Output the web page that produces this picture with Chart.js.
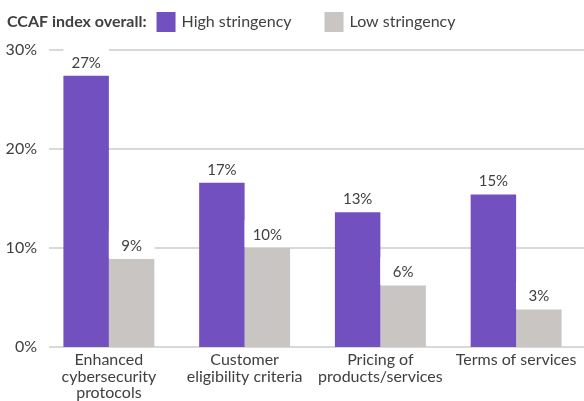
<!DOCTYPE html>
<html>
<head>
<meta charset="utf-8">
<script src="https://cdn.jsdelivr.net/npm/chart.js@4/dist/chart.umd.min.js"></script>
<style>
  html, body { margin: 0; padding: 0; background: #fff; }
  #wrap { width: 584px; height: 401px; }
</style>
</head>
<body>
<div id="wrap"><canvas id="myChart"></canvas></div>
<script>
// chart data
const categories = [
  ["Enhanced", "cybersecurity", "protocols"],
  ["Customer", "eligibility criteria"],
  ["Pricing of", "products/services"],
  ["Terms of services"]
];
const seriesNames = ["High stringency", "Low stringency"];
const highValues = [27.4, 16.6, 13.6, 15.4];
const lowValues = [8.9, 10.0, 6.2, 3.8];
// labels printed above the bars (as shown in the original)
const highLabels = ["27%", "17%", "13%", "15%"];
const lowLabels = ["9%", "10%", "6%", "3%"];
const yTicks = [0, 10, 20, 30];
const legendTitle = "CCAF index overall:";

const FONT = "Lato, 'Noto Sans', sans-serif";
const TEXT = "#404040";

// legend drawn as one line at the top
const topLegend = {
  id: "topLegend",
  afterDraw(chart) {
    const ctx = chart.ctx;
    ctx.save();
    ctx.textBaseline = "middle";
    ctx.font = "bold 16px " + FONT;
    ctx.fillStyle = TEXT;
    let x = 7;
    const y = 22;
    ctx.fillText(legendTitle, x, y);
    x += ctx.measureText(legendTitle).width + 10;
    ctx.font = "16px " + FONT;
    chart.data.datasets.forEach(ds => {
      ctx.fillStyle = ds.backgroundColor;
      ctx.fillRect(x, y - 10, 19, 20);
      x += 25;
      ctx.fillStyle = TEXT;
      ctx.fillText(ds.label, x, y);
      x += ctx.measureText(ds.label).width + 33;
    });
    ctx.restore();
  }
};

// horizontal grid lines, starting a little right of the axis labels
const gridLines = {
  id: "gridLines",
  beforeDatasetsDraw(chart) {
    const ctx = chart.ctx;
    const y = chart.scales.y;
    ctx.save();
    ctx.strokeStyle = "#d9d9d9";
    ctx.lineWidth = 2;
    yTicks.forEach(v => {
      const py = Math.round(y.getPixelForValue(v));
      ctx.beginPath();
      ctx.moveTo(49, py);
      ctx.lineTo(chart.chartArea.right, py);
      ctx.stroke();
    });
    ctx.restore();
  }
};

// value labels above bars, on a white box like the original
const barLabels = {
  id: "barLabels",
  afterDatasetsDraw(chart) {
    const ctx = chart.ctx;
    ctx.save();
    ctx.font = "15px " + FONT;
    ctx.textAlign = "center";
    ctx.textBaseline = "middle";
    chart.data.datasets.forEach((ds, i) => {
      chart.getDatasetMeta(i).data.forEach((bar, j) => {
        const w = bar.width;
        ctx.fillStyle = "#fff";
        ctx.fillRect(bar.x - w / 2, bar.y - 28, w, 27);
        ctx.fillStyle = TEXT;
        ctx.fillText(ds.valueLabels[j], bar.x, bar.y - 13);
      });
    });
    ctx.restore();
  }
};

const ctx = document.getElementById("myChart").getContext("2d");
new Chart(ctx, {
  type: "bar",
  data: {
    labels: categories,
    datasets: [
      {
        label: seriesNames[0],
        data: highValues,
        valueLabels: highLabels,
        backgroundColor: "#7350bf"
      },
      {
        label: seriesNames[1],
        data: lowValues,
        valueLabels: lowLabels,
        backgroundColor: "#c9c5c2"
      }
    ]
  },
  options: {
    responsive: true,
    maintainAspectRatio: false,
    animation: false,
    layout: { padding: { top: 50, right: 0, left: 0, bottom: 0 } },
    plugins: {
      legend: { display: false },
      tooltip: { enabled: false }
    },
    datasets: {
      bar: { categoryPercentage: 0.67, barPercentage: 1.0 }
    },
    scales: {
      x: {
        grid: { display: false, drawTicks: false },
        border: { display: false },
        afterFit(scale) { scale.height = 54; },
        ticks: {
          color: TEXT,
          font: { family: FONT, size: 16, lineHeight: 1.03 },
          padding: 5,
          maxRotation: 0,
          autoSkip: false
        }
      },
      y: {
        min: 0,
        max: 30,
        afterBuildTicks(scale) {
          scale.ticks = yTicks.map(v => ({ value: v }));
        },
        afterFit(scale) { scale.width = 41; },
        grid: { display: false, drawTicks: false },
        border: { display: false },
        ticks: {
          color: TEXT,
          font: { family: FONT, size: 16 },
          padding: 4,
          callback: v => v + "%"
        }
      }
    }
  },
  plugins: [gridLines, topLegend, barLabels]
});
</script>
</body>
</html>
